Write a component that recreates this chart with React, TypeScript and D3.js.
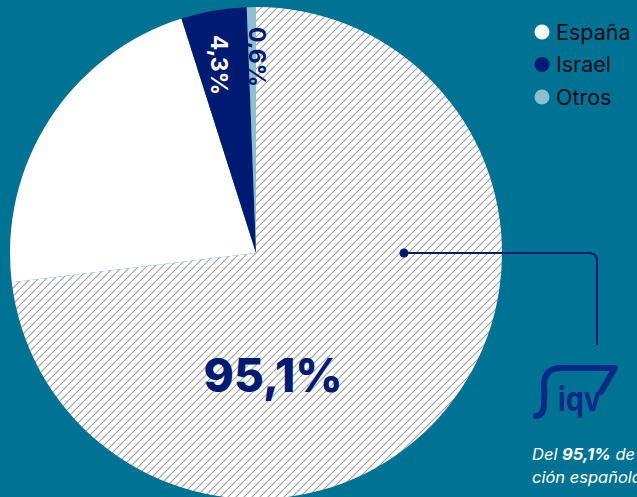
import { useEffect, useRef } from "react";
import * as d3 from "d3";

// España is split in two parts (hatched + solid white)
const segmentKeys = ["espanaHatch", "espanaSolid", "israel", "otros"];
const segmentValues = [73.1, 22.0, 4.3, 0.6];
const legendLabels = ["España", "Israel", "Otros"];
const legendColors = ["#ffffff", "#001b71", "#8cbfd0"];
const sliceLabels = ["95,1%", "4,3%", "0,6%"];

const BG = "#007394";
const NAVY = "#001b71";
const FONT = "Inter, 'Open Sans', sans-serif";

export default function App() {
  const svgRef = useRef<SVGSVGElement | null>(null);

  useEffect(() => {
    if (!svgRef.current) return;
    const W = 637;
    const H = 497;
    const cx = 256;
    const cy = 253;
    const r = 246;

    const svg = d3.select(svgRef.current);
    svg.selectAll("*").remove();
    svg.attr("width", W).attr("height", H);

    svg.append("rect").attr("width", W).attr("height", H).attr("fill", BG);

    // hatch pattern
    const defs = svg.append("defs");
    const pat = defs.append("pattern")
      .attr("id", "hatch")
      .attr("patternUnits", "userSpaceOnUse")
      .attr("width", 8).attr("height", 8);
    pat.append("rect").attr("width", 8).attr("height", 8).attr("fill", "#fff");
    pat.append("path")
      .attr("d", "M-1,1 L1,-1 M0,8 L8,0 M7,9 L9,7")
      .attr("stroke", "#a0a0a0").attr("stroke-width", 1.1);

    const fills = ["url(#hatch)", "#ffffff", legendColors[1], legendColors[2]];

    const pie = d3.pie<number>().sort(null).value(d => d);
    const arcs = pie(segmentValues);
    const arc = d3.arc<d3.PieArcDatum<number>>().innerRadius(0).outerRadius(r);

    const g = svg.append("g").attr("transform", `translate(${cx},${cy})`);
    g.selectAll("path.slice")
      .data(arcs)
      .join("path")
      .attr("class", d => "slice " + segmentKeys[d.index])
      .attr("d", arc)
      .attr("fill", (d, i) => fills[i]);

    // rotated small labels
    const labelArc = d3.arc<d3.PieArcDatum<number>>().innerRadius(196).outerRadius(196);
    const small = [
      { a: arcs[2], text: sliceLabels[1], color: "#ffffff", dx: -3, dy: 5 },
      { a: arcs[3], text: sliceLabels[2], color: NAVY, dx: 5, dy: 0 },
    ];
    small.forEach(s => {
      const [x, y] = labelArc.centroid(s.a);
      g.append("text")
        .attr("transform", `translate(${x + s.dx},${y + s.dy}) rotate(90)`)
        .attr("text-anchor", "middle")
        .attr("dominant-baseline", "central")
        .attr("font-family", FONT)
        .attr("font-weight", 700)
        .attr("font-size", 23)
        .attr("fill", s.color)
        .text(s.text);
    });

    // big label
    svg.append("text")
      .attr("x", 273).attr("y", 392)
      .attr("text-anchor", "middle")
      .attr("font-family", FONT)
      .attr("font-weight", 800)
      .attr("font-size", 46)
      .attr("fill", NAVY)
      .text(sliceLabels[0]);

    // legend
    const leg = svg.append("g").attr("transform", "translate(542,32)");
    legendLabels.forEach((lab, i) => {
      const row = leg.append("g").attr("transform", `translate(0,${i * 32.5})`);
      row.append("circle").attr("r", 7.5).attr("fill", legendColors[i]);
      row.append("text")
        .attr("x", 14).attr("y", 7.5)
        .attr("font-family", FONT)
        .attr("font-size", 21.5)
        .attr("fill", "#0d0d1a")
        .text(lab);
    });

    // annotation line
    svg.append("path")
      .attr("d", "M404,253 H589 Q597,253 597,261 V345")
      .attr("fill", "none").attr("stroke", NAVY).attr("stroke-width", 2);
    svg.append("circle").attr("cx", 404).attr("cy", 253).attr("r", 4.5).attr("fill", NAVY);

    // iqv logo (approximate)
    const logo = svg.append("g");
    logo.append("path")
      .attr("d", "M536,416 Q543,416 544,405 Q545,394 544,384 Q545,368 561,368 L615,368 L601,392")
      .attr("fill", "none").attr("stroke", "#0a2a86").attr("stroke-width", 6)
      .attr("stroke-linecap", "round").attr("stroke-linejoin", "round");
    logo.append("text")
      .attr("x", 558).attr("y", 411)
      .attr("font-family", FONT).attr("font-weight", 700).attr("font-size", 34)
      .attr("textLength", 43).attr("lengthAdjust", "spacingAndGlyphs")
      .attr("fill", "#0a2a86")
      .text("iqv");

    // caption (clipped at the right edge, as in the source)
    const cap = svg.append("text")
      .attr("font-family", FONT).attr("font-style", "italic")
      .attr("font-size", 16.5).attr("fill", "#ffffff");
    const l1 = cap.append("tspan").attr("x", 532).attr("y", 460);
    l1.append("tspan").text("Del ");
    l1.append("tspan").attr("font-weight", 700).text("95,1%");
    l1.append("tspan").text(" de la");
    cap.append("tspan").attr("x", 532).attr("y", 483).text("ción española");
  }, []);

  return (
    <div style={{ position: "absolute", left: 0, top: 0, width: 637, height: 497, overflow: "hidden" }}>
      <svg ref={svgRef} style={{ display: "block" }} />
    </div>
  );
}
